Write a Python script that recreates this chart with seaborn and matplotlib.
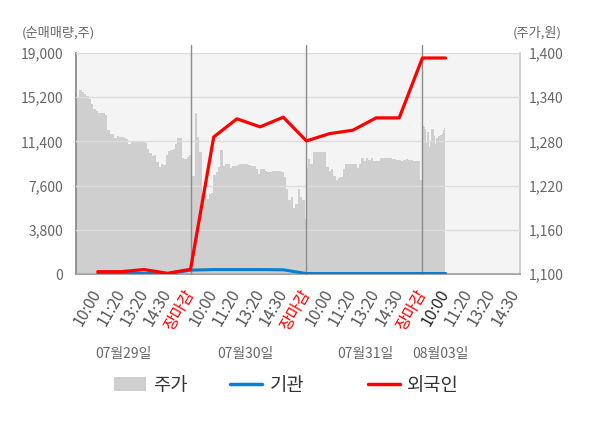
import numpy as np
import pandas as pd
import seaborn as sns
import matplotlib.pyplot as plt
from matplotlib.patches import Patch
from matplotlib.lines import Line2D
import matplotlib.transforms as mtransforms

# x축 눈금 (하루 = 5칸, 장마감이 하루의 끝)
tick_labels = ['10:00', '11:20', '13:20', '14:30', '장마감'] * 3 + ['10:00', '11:20', '13:20', '14:30']
dates = ['07월29일', '07월30일', '07월31일', '08월03일']
date_pos = [2.09, 7.35, 12.52, 15.79]

# 순매매량 (눈금 1 ~ 16)
foreign = [200, 200, 380, 60, 400, 11780, 13340, 12650, 13480, 11440,
           12070, 12360, 13420, 13420, 18570, 18570]
inst = [50, 50, 50, 10, 330, 380, 380, 380, 360, 40, 40, 40, 40, 40, 40, 40]

# 주가 (일별)
price_0729 = [1344, 1340, 1350, 1347, 1344, 1342, 1337, 1331, 1324, 1321,
              1319, 1318, 1318, 1316, 1296, 1290, 1290, 1285, 1287, 1286,
              1286, 1285, 1283, 1277, 1281, 1281, 1281, 1281, 1280, 1280,
              1278, 1270, 1264, 1260, 1261, 1252, 1245, 1250, 1248, 1261,
              1267, 1268, 1270, 1276, 1284, 1284, 1258, 1256, 1259, 1261]
price_0730 = [1205, 1233, 1318, 1286, 1265, 1210, 1215, 1202, 1208, 1210,
              1235, 1238, 1245, 1268, 1247, 1249, 1250, 1244, 1247, 1247,
              1248, 1249, 1249, 1249, 1249, 1248, 1247, 1246, 1242, 1236,
              1243, 1242, 1240, 1238, 1239, 1240, 1240, 1240, 1240, 1238,
              1232, 1215, 1200, 1204, 1190, 1195, 1215, 1204, 1201, 1175]
price_0731 = [1244, 1256, 1250, 1265, 1265, 1265, 1265, 1265, 1265, 1245,
              1240, 1243, 1233, 1228, 1230, 1232, 1243, 1250, 1250, 1250,
              1250, 1250, 1244, 1250, 1258, 1254, 1258, 1255, 1257, 1254,
              1254, 1254, 1257, 1257, 1257, 1257, 1257, 1256, 1256, 1255,
              1255, 1254, 1255, 1256, 1255, 1255, 1254, 1254, 1253, 1228]
price_0803 = [1301, 1299, 1297, 1278, 1293, 1272, 1280, 1297, 1297, 1288,
              1276, 1284, 1288, 1288, 1289, 1291, 1296, 1298]

price_x = np.concatenate([
    np.linspace(0.06, 4.99, len(price_0729)),
    np.linspace(5.03, 9.97, len(price_0730)),
    np.linspace(10.01, 14.93, len(price_0731)),
    np.linspace(15.02, 15.97, len(price_0803)),
])
price = np.concatenate([price_0729, price_0730, price_0731, price_0803])

flow = pd.DataFrame({'slot': np.arange(1, len(foreign) + 1), '외국인': foreign, '기관': inst})

sns.set_theme(style='white')
plt.rcParams['font.family'] = ['Noto Sans CJK KR', 'DejaVu Sans']

fig = plt.figure(figsize=(6, 4.28), dpi=100)
ax_p = fig.add_axes([76 / 600, 1 - 274 / 428, 444 / 600, 221 / 428])
ax_v = ax_p.twinx()

# 주가 영역 (오른쪽 축)
ax_p.set_facecolor('#f4f4f4')
ax_p.fill_between(price_x, price, 1100, step='mid', color='#cfcfcf', lw=0)
ax_p.set_ylim(1100, 1400)
ax_p.set_xlim(0.06, 19.21)
p_ticks = list(range(1100, 1401, 60))
ax_p.set_yticks(p_ticks)
ax_p.set_yticklabels([f'{v:,}' for v in p_ticks])
ax_p.yaxis.tick_right()
ax_p.tick_params(axis='y', length=0, pad=6, labelsize=10, labelcolor='#666666')
ax_p.spines['top'].set_visible(False)
ax_p.spines['left'].set_color('#888888')
ax_p.spines['bottom'].set_color('#999999')
ax_p.spines['right'].set_color('#cccccc')

# 순매매량 (왼쪽 축)
ax_v.yaxis.tick_left()
ax_v.set_ylim(0, 19000)
v_ticks = list(range(0, 19001, 3800))
ax_v.set_yticks(v_ticks)
ax_v.set_yticklabels([f'{v:,}' for v in v_ticks])
ax_v.tick_params(axis='y', length=0, pad=9, labelsize=10, labelcolor='#666666')
ax_v.grid(axis='y', color='#dcdcdc', lw=1)
for s in ax_v.spines.values():
    s.set_visible(False)

for d in [5, 10, 15]:
    ax_v.axvline(d, ymin=0, ymax=1.035, color='#8c8c8c', lw=1, clip_on=False, zorder=1)

sns.lineplot(data=flow, x='slot', y='기관', ax=ax_v, color='#0a7fd0', lw=2.2, legend=False)
sns.lineplot(data=flow, x='slot', y='외국인', ax=ax_v, color='#ff0000', lw=2.3, legend=False)
ax_v.set_xlabel('')
ax_v.set_ylabel('')

# x축 눈금
ax_p.set_xticks(range(1, len(tick_labels) + 1))
ax_p.set_xticklabels(tick_labels, rotation=60, ha='right', va='center', rotation_mode='anchor')
ax_p.tick_params(axis='x', length=0, pad=12, labelsize=11.5, labelcolor='#555555')
for i, lab in enumerate(ax_p.get_xticklabels()):
    if tick_labels[i] == '장마감':
        lab.set_color('#ff0000')
    elif i == 15:
        lab.set_color('#222222')

trans = mtransforms.blended_transform_factory(ax_p.transData, ax_p.transAxes)
for x, d in zip(date_pos, dates):
    ax_p.text(x, -0.36, d, transform=trans, ha='center', va='center', fontsize=10, color='#666666')

fig.text(22 / 600, 1 - 33 / 428, '(순매매량,주)', ha='left', va='center', fontsize=9.5, color='#666666')
fig.text(562 / 600, 1 - 33 / 428, '(주가,원)', ha='right', va='center', fontsize=9.5, color='#666666')

# 범례
legend_items = [
    (Patch(facecolor='#cfcfcf', edgecolor='none'), '주가', 114),
    (Line2D([], [], color='#0a7fd0', lw=2.5), '기관', 230),
    (Line2D([], [], color='#ff0000', lw=2.5), '외국인', 368),
]
for handle, label, x in legend_items:
    fig.legend([handle], [label], loc='center left', bbox_to_anchor=(x / 600, 1 - 385 / 428),
               frameon=False, fontsize=13.5, handlelength=1.7, handleheight=0.75,
               handletextpad=0.4, borderpad=0, borderaxespad=0, labelcolor='#333333')

fig.savefig('out.png', dpi=100)
